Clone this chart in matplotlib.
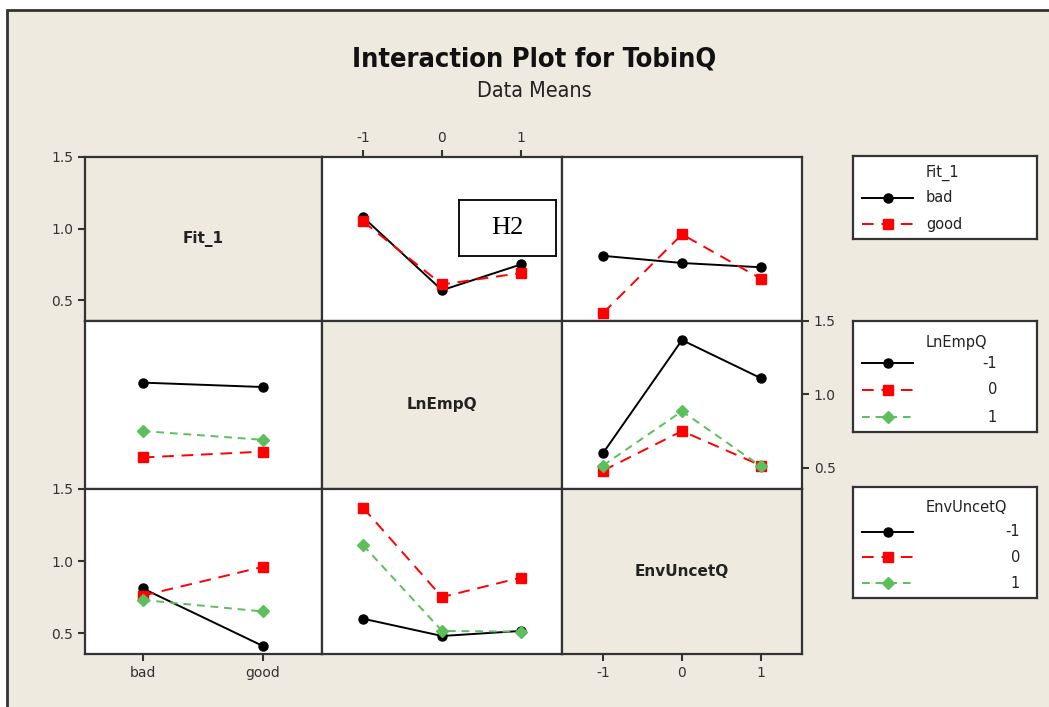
import matplotlib
matplotlib.use("Agg")
import matplotlib.pyplot as plt
from matplotlib.patches import Rectangle

# factor names and levels
factors = ["Fit_1", "LnEmpQ", "EnvUncetQ"]
fit_levels = ["bad", "good"]
lnemp_levels = ["-1", "0", "1"]
env_levels = ["-1", "0", "1"]

# mean TobinQ, rows = first factor level, cols = second factor level
fit_lnemp = [[1.08, 0.57, 0.75],     # bad
             [1.05, 0.61, 0.69]]     # good
fit_env = [[0.81, 0.76, 0.73],       # bad
           [0.41, 0.96, 0.65]]       # good
lnemp_env = [[0.60, 1.37, 1.11],     # LnEmpQ -1
             [0.48, 0.75, 0.515],    # LnEmpQ 0
             [0.515, 0.885, 0.51]]   # LnEmpQ 1

BEIGE = "#EEEAE0"
EDGE = "#333333"
W, H = 1049, 707

fig = plt.figure(figsize=(W / 100, H / 100), dpi=100, facecolor="white")


def px_axes(x0, y0, x1, y1):
    return fig.add_axes([x0 / W, 1 - y1 / H, (x1 - x0) / W, (y1 - y0) / H])


# outer frame (cut off at right and bottom like the screenshot)
fig.add_artist(Rectangle((7 / W, -0.1), 1.2, 1.1 - 10 / H, transform=fig.transFigure,
                         fc=BEIGE, ec=EDGE, lw=2, zorder=0))

fig.text(534 / W, 1 - 60 / H, "Interaction Plot for TobinQ", ha="center", va="center",
         fontsize=19.5, fontweight="bold", fontstretch="condensed", color="#111111")
fig.text(534 / W, 1 - 91 / H, "Data Means", ha="center", va="center",
         fontsize=15.5, fontstretch="condensed", color="#222222")

levels = [fit_levels, lnemp_levels, env_levels]
xpos = [[0, 1], [-1, 0, 1], [-1, 0, 1]]
xlims = [(-0.48, 1.49), (-1.52, 1.52), (-1.52, 1.52)]
tables = {(0, 1): fit_lnemp, (0, 2): fit_env, (1, 2): lnemp_env}

styles = [dict(color="black", ls="-", lw=1.4, marker="o", ms=6.5),
          dict(color="#FF0000", ls=(0, (6, 4)), lw=1.4, marker="s", ms=6.5),
          dict(color="#5CBF5C", ls=(0, (4, 3)), lw=1.4, marker="D", ms=6)]

cols = [(85, 322), (322, 562), (562, 802)]
rows = [(157, 321), (321, 489), (489, 654)]


def get_table(i, j):
    if i < j:
        return tables[(i, j)]
    t = tables[(j, i)]
    return [list(r) for r in zip(*t)]


for i in range(3):
    for j in range(3):
        ax = px_axes(cols[j][0], rows[i][0], cols[j][1], rows[i][1])
        ax.set_xlim(*xlims[j])
        ax.set_ylim(0.355, 1.5)
        for s in ax.spines.values():
            s.set_color(EDGE)
            s.set_linewidth(1.6)
        ax.tick_params(direction="out", length=5, width=1.5, color=EDGE,
                       labelsize=10, labelcolor="#333333",
                       left=False, bottom=False, labelleft=False, labelbottom=False)
        if i == j:
            ax.set_facecolor(BEIGE)
            ax.text(0.5, 0.5, factors[i], transform=ax.transAxes, ha="center", va="center",
                    fontsize=11, fontweight="bold", color="#222222")
        else:
            ax.set_facecolor("white")
            tab = get_table(i, j)
            for k, vals in enumerate(tab):
                ax.plot(xpos[j], vals, **styles[k])
        ax.set_xticks(xpos[j])
        ax.set_xticklabels(levels[j])
        ax.set_yticks([0.5, 1.0, 1.5])
        ax.set_yticklabels(["0.5", "1.0", "1.5"])
        if j == 0 and i in (0, 2):
            ax.tick_params(left=True, labelleft=True)
        if j == 2 and i == 1:
            ax.tick_params(right=True, labelright=True)
        if i == 0 and j == 1:
            ax.tick_params(top=True, labeltop=True)
        if i == 2 and j in (0, 2):
            ax.tick_params(bottom=True, labelbottom=True)

# H2 annotation box
hx = px_axes(459, 200, 556, 256)
hx.set_facecolor("white")
hx.set_xticks([])
hx.set_yticks([])
for s in hx.spines.values():
    s.set_color("black")
    s.set_linewidth(1.3)
hx.text(0.5, 0.5, "H2", transform=hx.transAxes, ha="center", va="center",
        fontsize=19, family=["Liberation Serif", "DejaVu Serif"])


# legends, drawn in box-local pixel coordinates
def legend_box(y0, y1, title, labels, title_y, row_y, label_x, align):
    lx = px_axes(853, y0, 1037, y1)
    lx.set_xlim(0, 184)
    lx.set_ylim(y1 - y0, 0)
    lx.set_facecolor("white")
    lx.set_xticks([])
    lx.set_yticks([])
    for s in lx.spines.values():
        s.set_color(EDGE)
        s.set_linewidth(1.6)
    lx.text(73, title_y, title, ha="left", va="center", fontsize=10.5, color="#222222")
    for k, lab in enumerate(labels):
        st = styles[k]
        lx.plot([9, 60], [row_y[k]] * 2, color=st["color"], ls=st["ls"], lw=st["lw"])
        lx.plot([35], [row_y[k]], ls="none", marker=st["marker"], ms=st["ms"],
                color=st["color"])
        lx.text(label_x, row_y[k], lab, ha=align, va="center", fontsize=10.5,
                color="#222222")


legend_box(156, 239, "Fit_1", fit_levels, 17, [42, 68], 73, "left")
legend_box(321, 432, "LnEmpQ", lnemp_levels, 22, [42, 69, 96], 144, "right")
legend_box(487, 598, "EnvUncetQ", env_levels, 21, [45, 70, 96], 167, "right")

fig.savefig("out.png", dpi=100, facecolor=fig.get_facecolor())
